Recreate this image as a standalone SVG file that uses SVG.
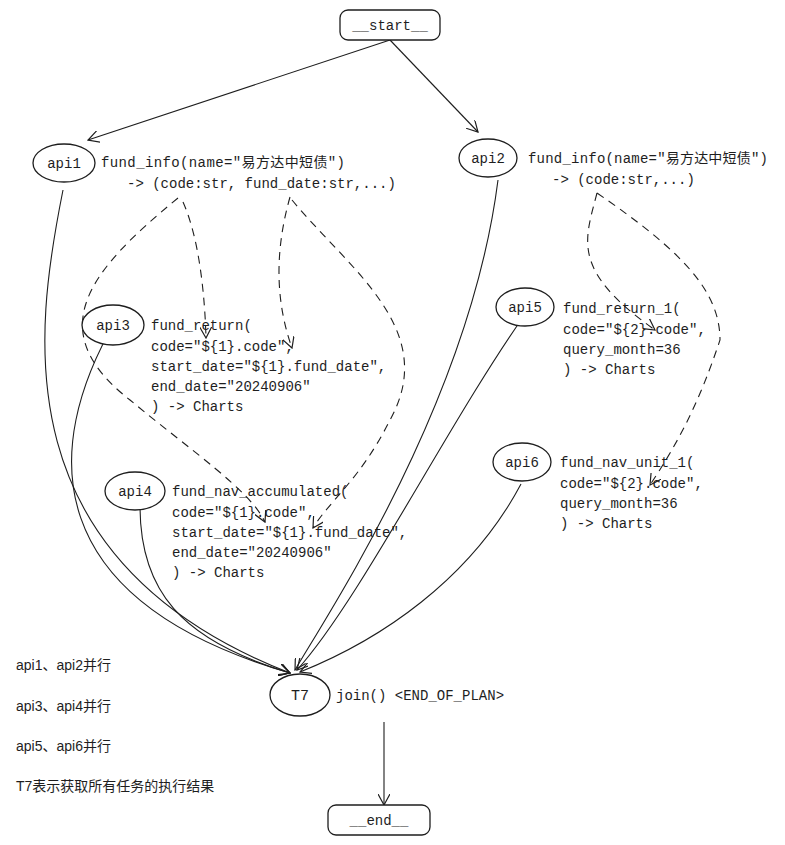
<svg xmlns="http://www.w3.org/2000/svg" width="785" height="845" viewBox="0 0 785 845">
<defs>
<marker id="ar" viewBox="0 0 12 12" refX="11" refY="6" markerWidth="12" markerHeight="12" markerUnits="userSpaceOnUse" orient="auto">
<path d="M0,0 L11,6 L0,12" fill="none" stroke="#1e1e1e" stroke-width="1.2"/>
</marker>
<style>
text{font-family:"Liberation Mono","Noto Sans CJK SC",monospace;font-size:14px;fill:#1e1e1e}
.s{font-family:"Liberation Sans","Noto Sans CJK SC",sans-serif}
.n{fill:#fff;stroke:#1e1e1e;stroke-width:1.3}
.c{fill:none;stroke:#1e1e1e;stroke-width:1.1;marker-end:url(#ar)}
.d{fill:none;stroke:#1e1e1e;stroke-width:1.1;stroke-dasharray:8 6;marker-end:url(#ar)}
.m{text-anchor:middle}
</style>
</defs>
<g id="connectors">
<path class="c" d="M390,40 L88,140"/>
<path class="c" d="M390,40 L478,132"/>
<path class="c" d="M384,722 L384,805"/>
<path class="c" d="M63,190 C35,330 0,560 290,673"/>
<path class="c" d="M116,320 C40,450 40,600 290,673"/>
<path class="c" d="M140,506 C140,590 180,640 290,673"/>
<path class="c" d="M498,180 C470,400 330,610 295,670"/>
<path class="c" d="M526,313 C450,420 360,600 297,670"/>
<path class="c" d="M521,484 C470,580 380,640 300,672"/>
<path class="d" d="M183,202 C200,240 205,300 206,338"/>
<path class="d" d="M178,198 C90,270 40,330 130,400 C190,450 250,490 265,522"/>
<path class="d" d="M290,197 C275,250 275,300 292,348"/>
<path class="d" d="M292,200 C350,270 440,330 390,420 C360,480 330,500 313,528"/>
<path class="d" d="M597,193 C585,240 570,270 655,330"/>
<path class="d" d="M597,193 C680,250 720,290 720,340 C700,400 680,440 650,485"/>
</g>
<g id="start"><rect class="n" x="340" y="10" width="100" height="30" rx="8"/><text class="m" x="390" y="30">__start__</text></g>
<g id="api1"><ellipse class="n" cx="64" cy="163" rx="31" ry="19"/><text class="m" x="64" y="168">api1</text>
<text x="101" y="167" textLength="244">fund_info(name="易方达中短债")</text><text x="127" y="188">-&gt; (code:str, fund_date:str,...)</text></g>
<g id="api2"><ellipse class="n" cx="488" cy="158" rx="29" ry="19"/><text class="m" x="488" y="163">api2</text>
<text x="528" y="163" textLength="240">fund_info(name="易方达中短债")</text><text x="552" y="184">-&gt; (code:str,...)</text></g>
<g id="api3"><ellipse class="n" cx="113" cy="325" rx="31" ry="20"/><text class="m" x="113" y="330">api3</text>
<text x="151" y="330">fund_return(</text><text x="151" y="351">code="${1}.code",</text><text x="151" y="371">start_date="${1}.fund_date",</text><text x="151" y="391">end_date="20240906"</text><text x="151" y="411">) -&gt; Charts</text></g>
<g id="api4"><ellipse class="n" cx="135" cy="491" rx="30" ry="19"/><text class="m" x="135" y="496">api4</text>
<text x="172" y="496">fund_nav_accumulated(</text><text x="172" y="517">code="${1}.code",</text><text x="172" y="537">start_date="${1}.fund_date",</text><text x="172" y="557">end_date="20240906"</text><text x="172" y="577">) -&gt; Charts</text></g>
<g id="api5"><ellipse class="n" cx="525" cy="307" rx="29" ry="19"/><text class="m" x="525" y="312">api5</text>
<text x="563" y="313">fund_return_1(</text><text x="563" y="334">code="${2}.code",</text><text x="563" y="354">query_month=36</text><text x="563" y="374">) -&gt; Charts</text></g>
<g id="api6"><ellipse class="n" cx="522" cy="462" rx="29" ry="19"/><text class="m" x="522" y="467">api6</text>
<text x="560" y="467">fund_nav_unit_1(</text><text x="560" y="488">code="${2}.code",</text><text x="560" y="508">query_month=36</text><text x="560" y="528">) -&gt; Charts</text></g>
<g id="T7"><ellipse class="n" cx="300" cy="695" rx="30" ry="21"/><text class="m" x="300" y="700" style="font-size:15px">T7</text>
<text x="336" y="700">join() &lt;END_OF_PLAN&gt;</text></g>
<g id="end"><rect class="n" x="328" y="805" width="102" height="30" rx="8"/><text class="m" x="379" y="825">__end__</text></g>
<g id="notes">
<text class="s" x="16" y="670">api1、api2并行</text>
<text class="s" x="16" y="711">api3、api4并行</text>
<text class="s" x="16" y="751">api5、api6并行</text>
<text class="s" x="16" y="791">T7表示获取所有任务的执行结果</text>
</g>
</svg>
